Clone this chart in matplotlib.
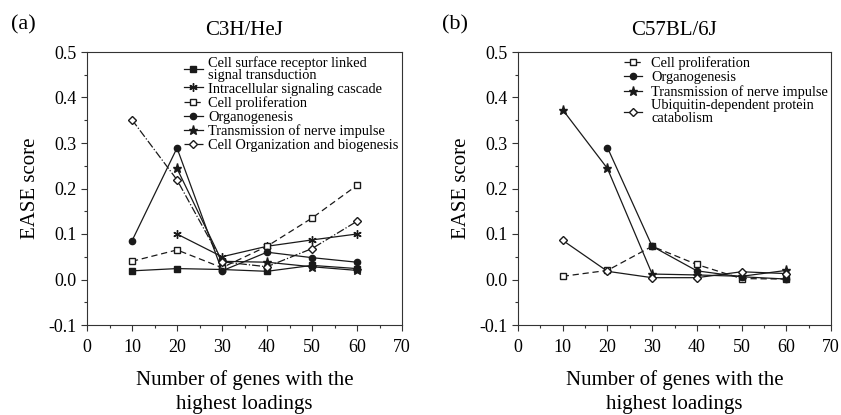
import matplotlib
matplotlib.use("Agg")
import matplotlib.pyplot as plt
from matplotlib.ticker import MultipleLocator, FormatStrFormatter

plt.rcParams['font.family'] = ['Liberation Serif', 'DejaVu Serif']
plt.rcParams['axes.unicode_minus'] = False

x_vals = [10, 20, 30, 40, 50, 60]

# Panel (a) C3H/HeJ
a_cell_surface = [0.019, 0.024, 0.022, 0.018, 0.031, 0.024]
a_intracellular_x = [20, 30, 40, 50, 60]
a_intracellular = [0.100, 0.050, 0.073, 0.087, 0.100]
a_cell_prolif = [0.040, 0.065, 0.026, 0.073, 0.135, 0.207]
a_organogenesis = [0.085, 0.289, 0.019, 0.060, 0.048, 0.038]
a_transmission_x = [20, 30, 40, 50, 60]
a_transmission = [0.244, 0.040, 0.038, 0.028, 0.020]
a_cell_org = [0.351, 0.219, 0.039, 0.028, 0.068, 0.128]

# Panel (b) C57BL/6J
b_cell_prolif = [0.007, 0.020, 0.073, 0.033, 0.002, 0.001]
b_organogenesis_x = [20, 30, 40, 50, 60]
b_organogenesis = [0.290, 0.073, 0.019, 0.006, 0.001]
b_transmission = [0.373, 0.244, 0.012, 0.010, 0.007, 0.020]
b_ubiquitin = [0.086, 0.018, 0.004, 0.004, 0.017, 0.013]

fig = plt.figure(figsize=(8.41, 4.15), dpi=100)
W, H = 841, 415
axA = fig.add_axes([87 / W, 1 - 325 / H, (402 - 87) / W, (325 - 52) / H])
axB = fig.add_axes([518 / W, 1 - 325 / H, (831 - 518) / W, (325 - 52) / H])

c = '#1a1a1a'
lw = 0.9
ms = 4.5

def style(ax):
    ax.set_xlim(0, 70)
    ax.set_ylim(-0.1, 0.5)
    ax.xaxis.set_major_locator(MultipleLocator(10))
    ax.xaxis.set_minor_locator(MultipleLocator(5))
    ax.yaxis.set_major_locator(MultipleLocator(0.1))
    ax.yaxis.set_minor_locator(MultipleLocator(0.05))
    ax.yaxis.set_major_formatter(FormatStrFormatter('%.1f'))
    ax.tick_params(which='both', direction='out', labelsize=13, width=0.8, color='#333333')
    ax.tick_params(which='major', length=4)
    ax.tick_params(which='minor', length=2.5)
    ax.tick_params(axis='x', pad=6)
    for s in ax.spines.values():
        s.set_linewidth(0.8)
        s.set_color('#333333')
    ax.set_ylabel('EASE score', fontsize=15, labelpad=6)
    ax.set_xlabel('Number of genes with the\nhighest loadings', fontsize=15, labelpad=10, linespacing=1.35)

# Panel A
axA.plot(x_vals, a_cell_surface, '-', color=c, lw=lw, marker='s', ms=ms, mfc=c, mec=c,
         label='Cell surface receptor linked\nsignal transduction')
axA.plot(a_intracellular_x, a_intracellular, '-', color=c, lw=lw, marker=(6, 2, 0), ms=6, mec=c,
         label='Intracellular signaling cascade')
axA.plot(x_vals, a_cell_prolif, '--', color=c, lw=lw, marker='s', ms=ms, mfc='white', mec=c,
         dashes=(5, 3), label='Cell proliferation')
axA.plot(x_vals, a_organogenesis, '-', color=c, lw=lw, marker='o', ms=ms, mfc=c, mec=c,
         label='Organogenesis')
axA.plot(a_transmission_x, a_transmission, '-', color=c, lw=lw, marker='*', ms=6.5, mfc=c, mec=c,
         label='Transmission of nerve impulse')
axA.plot(x_vals, a_cell_org, '-.', color=c, lw=lw, marker='D', ms=3.8, mfc='white', mec=c,
         label='Cell Organization and biogenesis')
style(axA)
legA = axA.legend(loc='upper left', bbox_to_anchor=(0.28, 1.015), frameon=False, fontsize=10.4,
                  handlelength=1.3, handletextpad=0.4, labelspacing=0.04, borderaxespad=0.2)
for t in legA.get_texts():
    t.set_linespacing(0.85)
axA.set_title('C3H/HeJ', fontsize=15, pad=12)
fig.text(23 / W, 1 - 25 / H, '(a)', fontsize=16, ha='center', va='center')

# Panel B
axB.plot(x_vals, b_cell_prolif, '--', color=c, lw=lw, marker='s', ms=ms, mfc='white', mec=c,
         dashes=(5, 3), label='Cell proliferation')
axB.plot(b_organogenesis_x, b_organogenesis, '-', color=c, lw=lw, marker='o', ms=ms, mfc=c, mec=c,
         label='Organogenesis')
axB.plot(x_vals, b_transmission, '-', color=c, lw=lw, marker='*', ms=6.5, mfc=c, mec=c,
         label='Transmission of nerve impulse')
axB.plot(x_vals, b_ubiquitin, '-', color=c, lw=lw, marker='D', ms=3.8, mfc='white', mec=c,
         label='Ubiquitin-dependent protein\ncatabolism')
style(axB)
legB = axB.legend(loc='upper left', bbox_to_anchor=(0.31, 1.015), frameon=False, fontsize=10.4,
                  handlelength=1.3, handletextpad=0.6, labelspacing=0.05, borderaxespad=0.2)
for t in legB.get_texts():
    t.set_linespacing(0.95)
axB.set_title('C57BL/6J', fontsize=15, pad=12)
fig.text(455 / W, 1 - 25 / H, '(b)', fontsize=16, ha='center', va='center')

fig.savefig('out.png', dpi=100)
